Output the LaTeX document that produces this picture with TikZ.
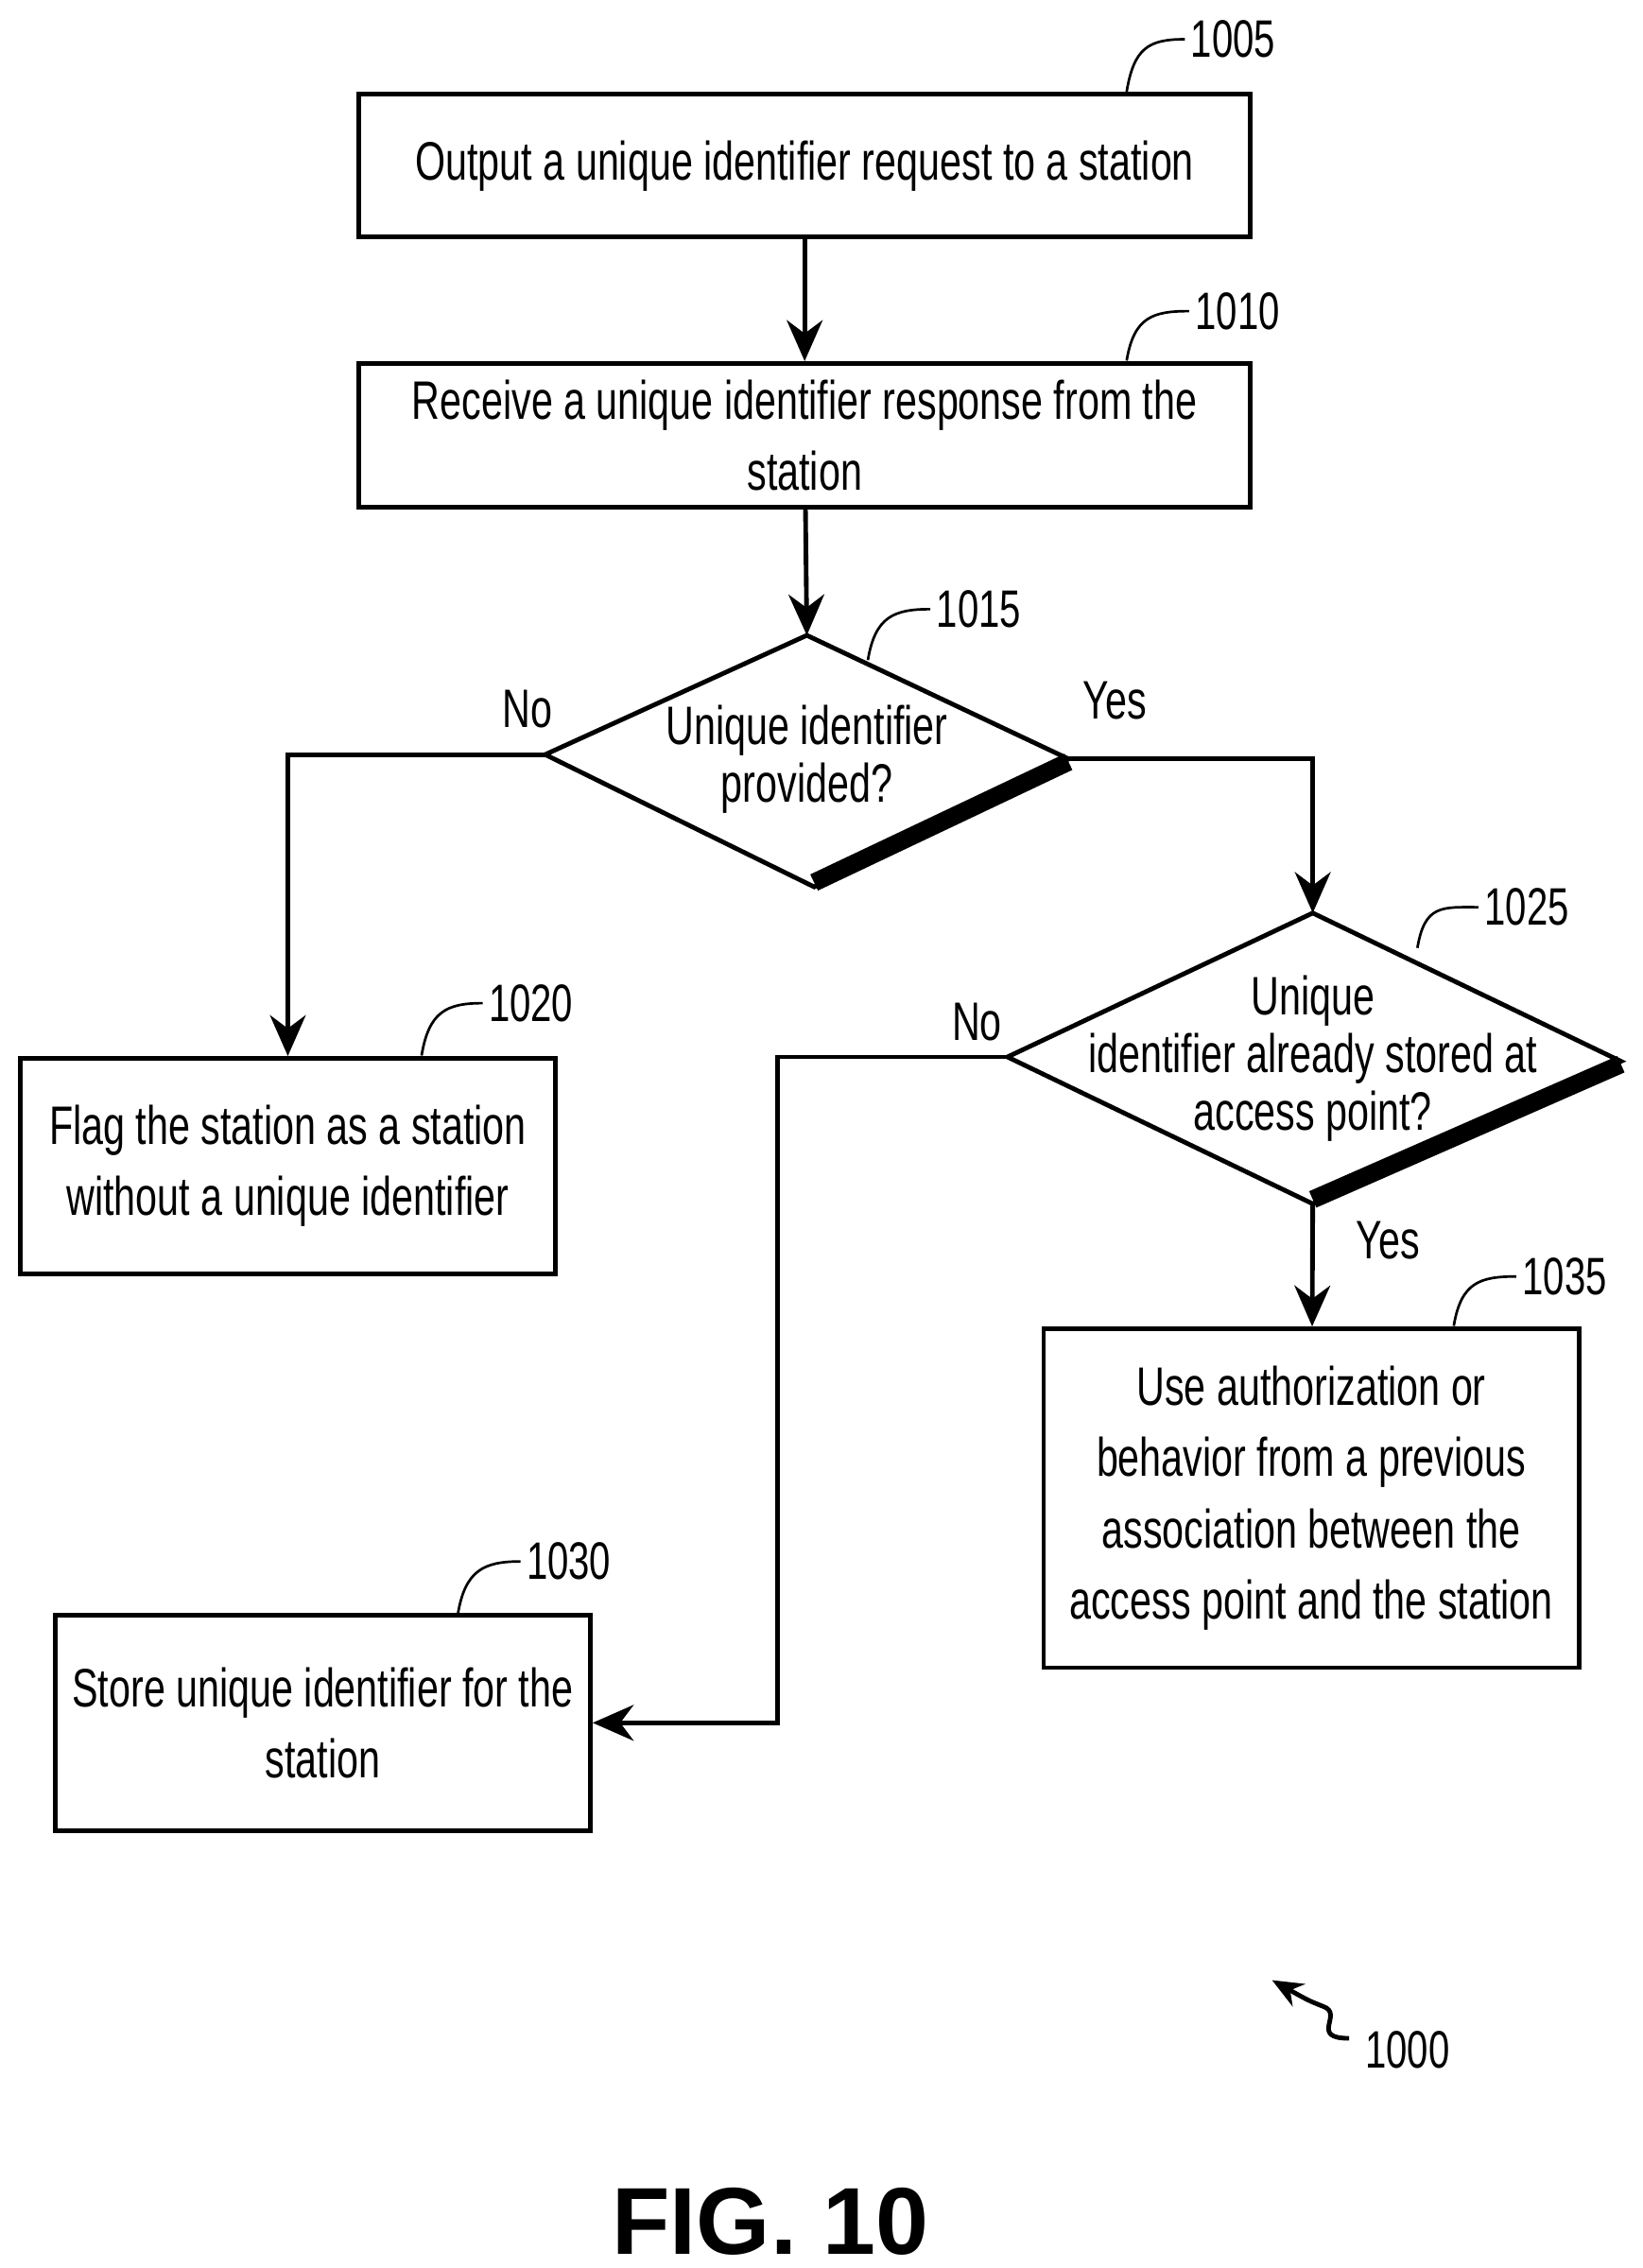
\documentclass[tikz,border=0pt]{standalone}
\usepackage{fontspec}
\setmainfont{Liberation Sans}[FakeStretch=0.72]
\newfontfamily\figfont{Liberation Sans}
\usetikzlibrary{arrows.meta}
\begin{document}
\begin{tikzpicture}[x=0.01cm,y=-0.01cm,
	box/.style={draw, line width=0.9pt, align=center, font=\fontsize{10.6}{13.9}\selectfont, inner sep=2pt},
	dtext/.style={align=center, font=\fontsize{10.6}{11.3}\selectfont, inner sep=0pt},
	flow/.style={line width=0.9pt, -{Stealth[length=8pt,width=7pt]}},
	lbl/.style={font=\fontsize{10.6}{13}\selectfont},
	ref/.style={font=\fontsize{10.3}{13}\selectfont, anchor=west, inner sep=1pt}]
	\useasboundingbox (0,0) rectangle (1130,1560);
	
	% Boxes
	\node[box, minimum width=6.13cm, minimum height=0.98cm] (req) at (553.5,114) {Output a unique identifier request to a station};
	\node[box, minimum width=6.13cm, minimum height=0.99cm] (resp) at (553.5,299.5) {Receive a unique identifier response from the\\station};
	\node[box, minimum width=3.68cm, minimum height=1.48cm] (flag) at (198,802) {Flag the station as a station\\without a unique identifier};
	\node[box, minimum width=3.68cm, minimum height=2.33cm] (use) at (902,1030.5) {Use authorization or\\behavior from a previous\\association between the\\access point and the station};
	\node[box, minimum width=3.68cm, minimum height=1.48cm] (store) at (222,1185) {Store unique identifier for the\\station};
	
	% Decision 1015
	\coordinate (d1t) at (555,437); \coordinate (d1l) at (375,519);
	\coordinate (d1r) at (735,522); \coordinate (d1b) at (560,610);
	\draw[line width=0.9pt] (d1t) -- (d1r) -- (d1b) -- (d1l) -- cycle;
	\draw[line width=3.5pt] ([shift={(0,-3)}]d1b) -- ([shift={(0,2)}]d1r);
	\node[dtext] (q1) at (555,522) {Unique identifier\\provided?};
	
	% Decision 1025
	\coordinate (d2t) at (903,628); \coordinate (d2l) at (693,727);
	\coordinate (d2r) at (1115,730); \coordinate (d2b) at (903,828);
	\draw[line width=0.9pt] (d2t) -- (d2r) -- (d2b) -- (d2l) -- cycle;
	\draw[line width=3.5pt] ([shift={(0,-3)}]d2b) -- ([shift={(0,2)}]d2r);
	\node[dtext] (q2) at (903,728) {Unique\\identifier already stored at\\access point?};
	
	% Connectors
	\draw[flow] (req) -- (resp);
	\draw[flow] (resp) -- (d1t);
	\draw[flow] (d1l) -| (flag);
	\draw[flow] (d1r) -| (d2t);
	\coordinate (turn) at (535,727);
	\draw[flow] (d2l) -- (turn) |- (store);
	\draw[flow] (d2b) -- (use);
	\node[lbl] (no1) at (363,488) {No};
	\node[lbl] (yes1) at (767,482) {Yes};
	\node[lbl] (no2) at (672,703) {No};
	\node[lbl] (yes2) at (955,853) {Yes};
	
	% Reference numerals
	\foreach \nm/\sx/\sy/\ex/\ey in {1005/775/63/815/27, 1010/775/248/818/214, 1015/597/454/640/419,
		1025/975/652/1017/624, 1020/290/726/332/690, 1035/1000/912/1043/878, 1030/315/1110/358/1074}
	{
		\draw[line width=0.5pt] (\sx,\sy) .. controls (\sx+5,\sy-30) and (\ex-25,\ey) .. (\ex,\ey);
		\node[ref] (n\nm) at (\ex,\ey) {\nm};
	}
	
	% Figure numeral
	\node[ref] (n1000) at (935,1410) {1000};
	\draw[line width=0.9pt, -{Stealth[length=6pt,width=5pt]}] (928,1402) .. controls (900,1402) and (925,1385) .. (910,1380) .. controls (900,1376) .. (875,1362);
	\node[font=\figfont\bfseries\fontsize{18.6}{22}\selectfont] (fig) at (530,1528) {FIG. 10};
\end{tikzpicture}
\end{document}
